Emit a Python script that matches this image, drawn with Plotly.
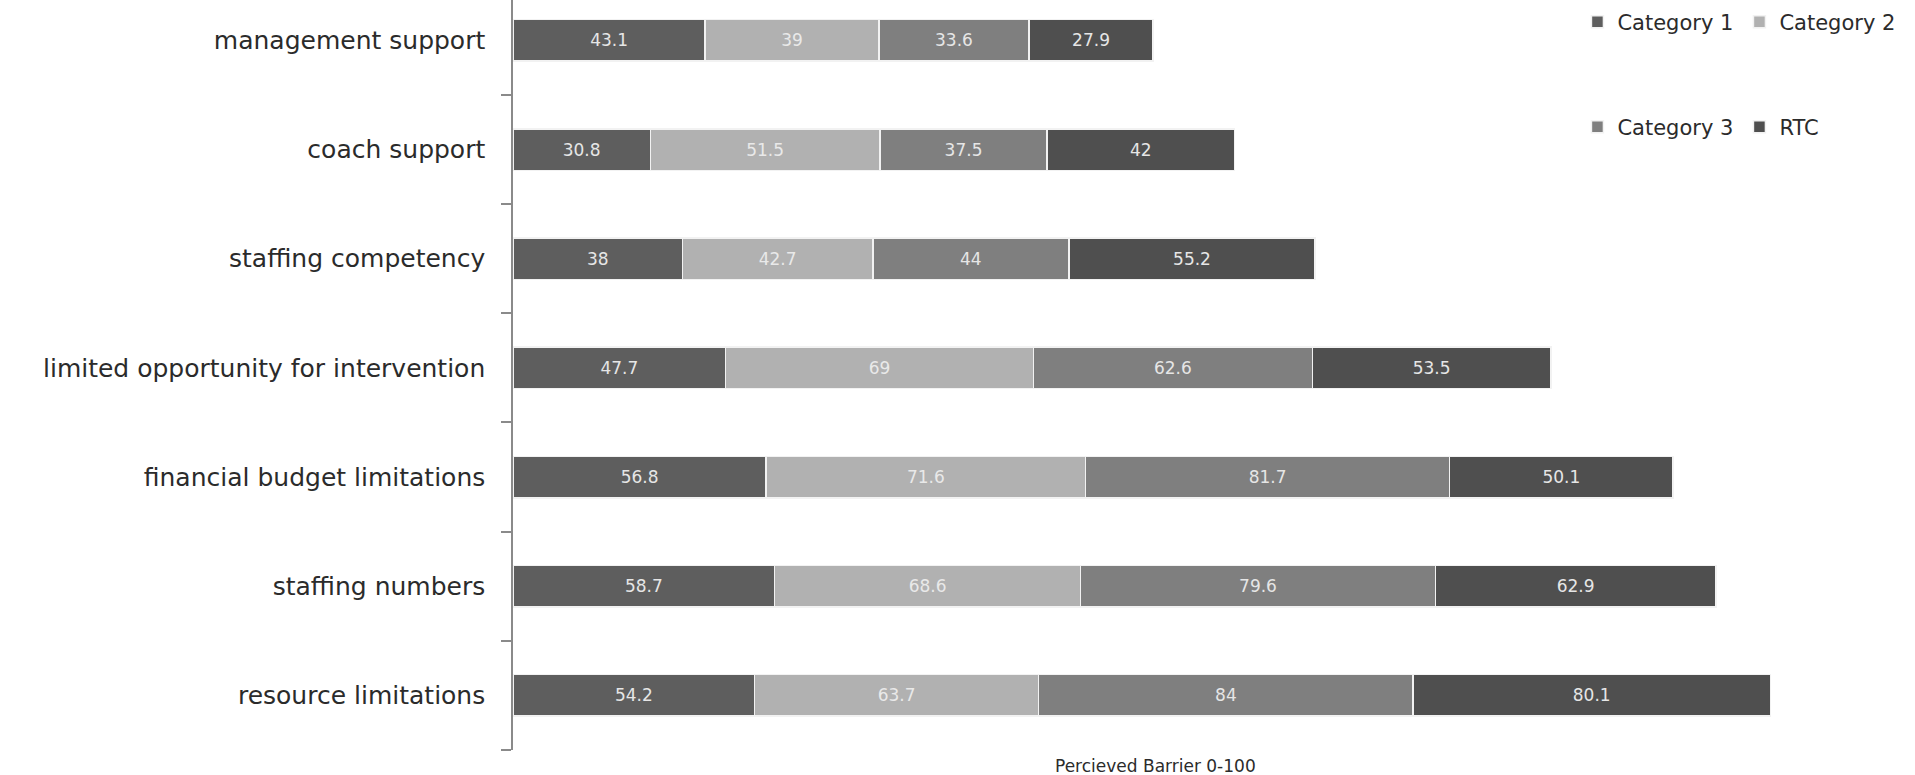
import plotly.graph_objects as go

categories = [
    "management support",
    "coach support",
    "staffing competency",
    "limited opportunity for intervention",
    "financial budget limitations",
    "staffing numbers",
    "resource limitations",
]
series_names = ["Category 1", "Category 2", "Category 3", "RTC"]
cat1 = [43.1, 30.8, 38, 47.7, 56.8, 58.7, 54.2]
cat2 = [39, 51.5, 42.7, 69, 71.6, 68.6, 63.7]
cat3 = [33.6, 37.5, 44, 62.6, 81.7, 79.6, 84]
rtc = [27.9, 42, 55.2, 53.5, 50.1, 62.9, 80.1]
x_title = "Percieved Barrier 0-100"

colors = ["#5e5e5e", "#b1b1b1", "#7f7f7f", "#4f4f4f"]
text_colors = ["#e6e6e6", "#e9e9e9", "#e6e6e6", "#e6e6e6"]
legend_ids = ["legend", "legend", "legend2", "legend2"]

fig = go.Figure()
for name, vals, col, tcol, lg in zip(series_names, [cat1, cat2, cat3, rtc], colors, text_colors, legend_ids):
    fig.add_trace(go.Bar(
        y=categories, x=vals, name=name, orientation="h",
        marker=dict(color=col, line=dict(color="#f2f2f2", width=1.5)),
        text=[f"{v:g}" for v in vals], textposition="inside",
        insidetextanchor="middle",
        textfont=dict(family="DejaVu Sans", size=17, color=tcol),
        legend=lg,
    ))

fig.update_layout(
    barmode="stack",
    bargap=0.62,
    width=1915, height=775,
    margin=dict(l=513, r=118, t=0, b=25),
    paper_bgcolor="white", plot_bgcolor="white",
    font=dict(family="DejaVu Sans", color="#2b2b2b"),
    uniformtext=dict(mode="show", minsize=10),
    xaxis=dict(range=[0, 288], visible=False, fixedrange=True),
    yaxis=dict(
        categoryorder="array", categoryarray=list(reversed(categories)),
        range=[-0.5, 6.37],
        showline=True, linecolor="#8a8a8a", linewidth=1.5,
        ticks="outside", tickson="boundaries", ticklen=10, tickcolor="#8a8a8a", tickwidth=1.5,
        ticklabelstandoff=21,
        showgrid=False, zeroline=False,
        tickfont=dict(family="DejaVu Sans", size=25, color="#2b2b2b"),
    ),
    legend=dict(
        orientation="h", x=0.829, xanchor="left", y=0.998, yanchor="top",
        yref="paper", entrywidth=117, entrywidthmode="pixels",
        font=dict(family="DejaVu Sans", size=21, color="#2b2b2b"),
        itemwidth=30, bgcolor="rgba(0,0,0,0)", traceorder="normal",
    ),
    legend2=dict(
        orientation="h", x=0.829, xanchor="left", y=0.858, yanchor="top",
        yref="paper", entrywidth=117, entrywidthmode="pixels",
        font=dict(family="DejaVu Sans", size=21, color="#2b2b2b"),
        itemwidth=30, bgcolor="rgba(0,0,0,0)", traceorder="normal",
    ),
    showlegend=True,
    annotations=[dict(
        text=x_title, xref="paper", yref="paper", x=0.5, y=0, yanchor="middle",
        yshift=-16, showarrow=False,
        font=dict(family="DejaVu Sans", size=17, color="#2b2b2b"),
    )],
)

fig.write_html("out.html")
